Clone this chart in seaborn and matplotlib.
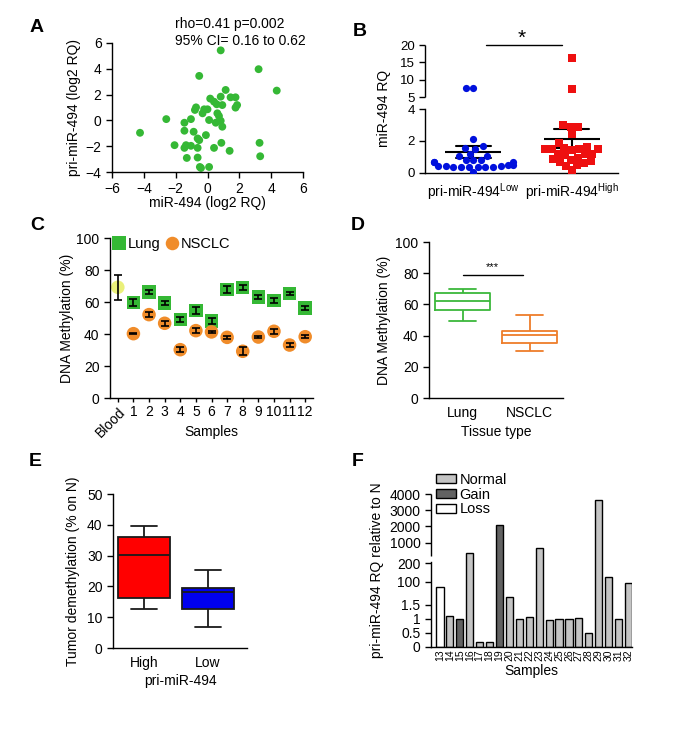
import numpy as np
import pandas as pd
import matplotlib
matplotlib.use("Agg")
import matplotlib.pyplot as plt
import seaborn as sns

# ---------------- data ----------------
# Panel A: scatter (log2 RQ)
a_mir494 = [0.83, 3.21, -0.52, 4.35, 1.14, 0.17, 0.41, 0.83, 1.45, 1.76, 1.86, 1.76,
            0.58, 0.93, -0.72, -0.79, -0.21, 0.0, -0.31, 0.62, 0.72, -2.59, -1.04, 0.1,
            0.83, 0.52, -1.45, 0.93, -1.45, -0.87, -4.24, -0.1, -0.62, -0.52, 0.87, 3.27,
            -2.07, -1.35, -1.04, -1.45, -0.62, 0.41, 1.39, -1.3, -0.62, 3.31, -0.48, 0.1, -0.41]
a_pri494 = [5.43, 3.97, 3.45, 2.31, 2.36, 1.69, 1.45, 1.84, 1.79, 1.79, 1.19, 0.99,
            1.25, 1.19, 1.01, 0.81, 0.86, 0.86, 0.55, 0.55, 0.34, 0.1, 0.1, 0.03,
            -0.03, -0.18, -0.18, -0.49, -0.8, -0.88, -0.96, -1.14, -1.4, -1.53, -1.74, -1.74,
            -1.92, -1.92, -1.97, -2.13, -2.13, -2.13, -2.36, -2.91, -2.88, -2.78, -3.61, -3.61, -3.69]
a_stats = ["rho=0.41 p=0.002", "95% CI= 0.16 to 0.62"]

# Panel B: miR-494 RQ by pri-miR-494 group
b_low = [7.8, 7.8, 2.1, 1.55, 1.5, 1.65, 1.2, 1.05, 1.05, 0.8, 0.8, 0.65, 0.65, 0.65,
         0.8, 0.5, 0.5, 0.4, 0.38, 0.38, 0.38, 0.38, 0.38, 0.38, 0.4, 0.42, 0.02]
b_high = [16.4, 7.3, 3.0, 2.9, 2.9, 2.45, 1.85, 1.6, 1.55, 1.5, 1.5, 1.5, 1.5, 1.45,
          1.2, 1.2, 1.15, 1.1, 0.95, 0.85, 0.8, 0.75, 0.7, 0.6, 0.5, 0.45, 0.15]
b_groups = ["Low", "High"]
b_ticklabels = ["pri-miR-494$^{\\mathrm{Low}}$", "pri-miR-494$^{\\mathrm{High}}$"]
b_yticks = [0, 2, 4, 5, 10, 15, 20]

# Panel C: DNA methylation per sample
c_blood_label = ["Blood"]
c_blood_mean = [69.2]
c_blood_err = [7.8]
c_samples = ["1", "2", "3", "4", "5", "6", "7", "8", "9", "10", "11", "12"]
c_lung_mean = [59.8, 66.3, 59.4, 49.0, 54.8, 48.1, 67.7, 69.0, 63.1, 61.0, 65.4, 56.3]
c_lung_err = [2.0, 1.5, 1.5, 1.5, 2.0, 2.0, 2.0, 1.5, 1.5, 1.5, 1.0, 1.0]
c_nsclc_mean = [40.2, 52.1, 46.7, 30.2, 42.1, 41.3, 37.9, 29.2, 38.1, 41.7, 33.1, 38.3]
c_nsclc_err = [0.3, 1.5, 1.5, 1.5, 1.5, 0.5, 1.0, 2.5, 0.5, 1.5, 1.0, 1.0]

# Panel D: box (min, Q1, median, Q3, max)
d_tissues = ["Lung", "NSCLC"]
d_lung_box = [49.1, 56.4, 62.0, 67.5, 69.7]
d_nsclc_box = [30.1, 35.0, 40.2, 42.9, 53.2]

# Panel E: box (min, Q1, median, Q3, max)
e_groups = ["High", "Low"]
e_high_box = [12.7, 16.1, 30.1, 36.1, 39.7]
e_low_box = [6.8, 12.6, 18.1, 19.6, 25.4]

# Panel F: pri-miR-494 RQ relative to N
f_samples = [str(s) for s in range(13, 33)]
f_values = [76, 1.09, 1.0, 590, 0.16, 0.16, 2100, 36.6, 1.0, 1.06, 806, 0.95,
            1.01, 1.01, 1.05, 0.49, 3660, 127, 1.0, 93]
f_status = ["Loss", "Normal", "Gain", "Normal", "Normal", "Normal", "Gain", "Normal",
            "Normal", "Normal", "Normal", "Normal", "Normal", "Normal", "Normal",
            "Normal", "Normal", "Normal", "Normal", "Normal"]
f_status_order = ["Normal", "Gain", "Loss"]
f_yticks = [0, 0.5, 1, 1.5, 100, 200, 1000, 2000, 3000, 4000]
f_yticklabels = ["0", "0.5", "1", "1.5", "100", "200", "1000", "2000", "3000", "4000"]

# ---------------- style ----------------
sns.set_style("ticks")
plt.rcParams.update({
    "font.family": ["Liberation Sans", "DejaVu Sans"],
    "mathtext.fontset": "custom",
    "mathtext.rm": "Liberation Sans",
    "mathtext.it": "Liberation Sans:italic",
    "font.size": 10,
    "axes.labelsize": 10,
    "xtick.labelsize": 10,
    "ytick.labelsize": 10,
    "axes.linewidth": 1.0,
    "xtick.major.width": 1.0,
    "ytick.major.width": 1.0,
    "xtick.major.size": 4,
    "ytick.major.size": 4,
    "xtick.color": "black",
    "ytick.color": "black",
    "axes.edgecolor": "black",
    "text.color": "black",
    "axes.labelcolor": "black",
})

GREEN = "#35b835"
ORANGE = "#f08c2a"

W, H = 700, 745
fig = plt.figure(figsize=(W / 100, H / 100), dpi=100)


def rect(x0, y0, x1, y1):
    return [x0 / W, 1 - y1 / H, (x1 - x0) / W, (y1 - y0) / H]


def piecewise(kv, kp):
    kv = np.asarray(kv, float)
    kp = np.asarray(kp, float)
    s0 = (kp[1] - kp[0]) / (kv[1] - kv[0])
    s1 = (kp[-1] - kp[-2]) / (kv[-1] - kv[-2])

    def fwd(v):
        v = np.asarray(v, float)
        out = np.interp(v, kv, kp)
        out = np.where(v < kv[0], kp[0] + (v - kv[0]) * s0, out)
        out = np.where(v > kv[-1], kp[-1] + (v - kv[-1]) * s1, out)
        return out

    def inv(p):
        p = np.asarray(p, float)
        out = np.interp(p, kp, kv)
        out = np.where(p < kp[0], kv[0] + (p - kp[0]) / s0, out)
        out = np.where(p > kp[-1], kv[-1] + (p - kp[-1]) / s1, out)
        return out

    return fwd, inv


def panel_letter(x, y, s):
    fig.text(x / W, 1 - y / H, s, fontsize=14, fontweight="bold", ha="center", va="center")


# ---------------- Panel A ----------------
axA = fig.add_axes(rect(112, 43, 303, 172))
sns.scatterplot(x=a_mir494, y=a_pri494, color=GREEN, s=32, edgecolor="none", ax=axA)
axA.set_xlim(-6, 6)
axA.set_ylim(-4, 6)
axA.set_xticks([-6, -4, -2, 0, 2, 4, 6])
axA.set_yticks([-4, -2, 0, 2, 4, 6])
axA.set_xlabel("miR-494 (log2 RQ)", labelpad=0)
axA.set_ylabel("pri-miR-494 (log2 RQ)", labelpad=3)
sns.despine(ax=axA)
fig.text(175 / W, 1 - 24 / H, a_stats[0], ha="left", va="center", fontsize=10)
fig.text(175 / W, 1 - 41 / H, a_stats[1], ha="left", va="center", fontsize=10)
panel_letter(37, 28, "A")

# ---------------- Panel B ----------------
axB = fig.add_axes(rect(425, 45, 618, 172.7))
sns.swarmplot(x=["Low"] * len(b_low), y=b_low, order=b_groups, color="#0010dd",
              marker="o", size=5.2, linewidth=0, warn_thresh=1, ax=axB)
sns.swarmplot(x=["High"] * len(b_high), y=b_high, order=b_groups, color="#ee1010",
              marker="s", size=5.2, linewidth=0, warn_thresh=1, ax=axB)
b_df = pd.DataFrame({"group": ["Low"] * len(b_low) + ["High"] * len(b_high),
                     "rq": b_low + b_high})
sns.pointplot(data=b_df, x="group", y="rq", order=b_groups, errorbar="se", capsize=0.36,
              color="black", markers="_", markersize=40, markeredgewidth=1.5,
              linestyle="none", err_kws={"linewidth": 1.5}, ax=axB)
fB, iB = piecewise([0, 4, 5, 20], [0, 63.7, 75.4, 127.7])
axB.set_yscale("function", functions=(fB, iB))
axB.set_ylim(0, 20)
axB.set_yticks(b_yticks)
axB.set_yticklabels([str(t) for t in b_yticks])
axB.tick_params(axis="y", labelsize=9.5)
axB.set_xlim(-0.49, 1.47)
axB.set_xticks([0, 1])
axB.set_xticklabels(b_ticklabels)
axB.tick_params(axis="x", length=0, pad=6)
axB.set_xlabel("")
axB.set_ylabel("miR-494 RQ", labelpad=6)
sns.despine(ax=axB)
axB.spines["left"].set_bounds(0, 4)
axB.plot([0, 0], [5, 20], transform=axB.get_yaxis_transform(), color="black",
         lw=1.0, clip_on=False, solid_capstyle="butt")
axB.plot([0.316, 0.71], [1.0, 1.0], transform=axB.transAxes, color="black", lw=1.0, clip_on=False)
fig.text(522 / W, 1 - 38 / H, "*", ha="center", va="center", fontsize=15)
panel_letter(360, 32, "B")

# ---------------- Panel C ----------------
axC = fig.add_axes(rect(110, 238, 313, 398))
c_df = pd.DataFrame({
    "sample": c_blood_label + c_samples + c_samples,
    "meth": c_blood_mean + c_lung_mean + c_nsclc_mean,
    "err": c_blood_err + c_lung_err + c_nsclc_err,
    "tissue": ["Blood"] + ["Lung"] * len(c_samples) + ["NSCLC"] * len(c_samples),
})
sns.scatterplot(data=c_df, x="sample", y="meth", hue="tissue", style="tissue",
                markers={"Blood": "o", "Lung": "s", "NSCLC": "o"},
                palette={"Blood": "#eaf07a", "Lung": GREEN, "NSCLC": ORANGE},
                s=95, linewidth=0, ax=axC)
axC.errorbar(c_df["sample"], c_df["meth"], yerr=c_df["err"], fmt="none", ecolor="black",
             elinewidth=1.2, capsize=3.2, capthick=1.2, zorder=4)
handles, labels = axC.get_legend_handles_labels()
keep = [(h, l) for h, l in zip(handles, labels) if l in ("Lung", "NSCLC")]
axC.legend([k[0] for k in keep], [k[1] for k in keep], ncol=2, loc="center left",
           bbox_to_anchor=(112 / W, 1 - 244 / H), bbox_transform=fig.transFigure,
           frameon=False, handletextpad=0.1, columnspacing=0.3, handlelength=1.0,
           borderpad=0, borderaxespad=0, fontsize=10.5)
axC.set_xlim(-0.5, 12.5)
axC.set_ylim(0, 100)
axC.set_yticks([0, 20, 40, 60, 80, 100])
axC.set_xlabel("Samples")
axC.xaxis.set_label_coords(0.5, -0.17)
axC.set_ylabel("DNA Methylation (%)", labelpad=2)
axC.tick_params(axis="x", length=3, pad=2)
for lab in axC.get_xticklabels():
    if lab.get_text() == "Blood":
        lab.set_rotation(45)
        lab.set_ha("right")
        lab.set_rotation_mode("anchor")
sns.despine(ax=axC)
panel_letter(37, 225, "C")

# ---------------- Panel D ----------------
axD = fig.add_axes(rect(429, 242, 563, 398))
d_df = pd.DataFrame({"tissue": ["Lung"] * len(d_lung_box) + ["NSCLC"] * len(d_nsclc_box),
                     "meth": d_lung_box + d_nsclc_box})
sns.boxplot(data=d_df, x="tissue", y="meth", hue="tissue", order=d_tissues,
            palette={"Lung": "#3cb83c", "NSCLC": "#ee7d2a"}, fill=False, whis=(0, 100),
            width=0.83, linewidth=1.3, saturation=1, legend=False, ax=axD)
axD.set_xlim(-0.5, 1.5)
axD.set_ylim(0, 100)
axD.set_yticks([0, 20, 40, 60, 80, 100])
axD.tick_params(axis="x", length=0, pad=6)
axD.set_xlabel("Tissue type", labelpad=3)
axD.set_ylabel("DNA Methylation (%)", labelpad=3)
sns.despine(ax=axD)
axD.plot([0, 0.9], [79, 79], color="black", lw=1.0)
axD.text(0.45, 80.5, "***", ha="center", va="bottom", fontsize=8)
panel_letter(358, 225, "D")

# ---------------- Panel E ----------------
axE = fig.add_axes(rect(113, 494, 247, 648))
e_df = pd.DataFrame({"group": ["High"] * len(e_high_box) + ["Low"] * len(e_low_box),
                     "demeth": e_high_box + e_low_box})
sns.boxplot(data=e_df, x="group", y="demeth", hue="group", order=e_groups,
            palette={"High": "#ff0000", "Low": "#0000ee"}, whis=(0, 100), width=0.81,
            linecolor="#1a1a1a", linewidth=1.3, saturation=1, legend=False, ax=axE)
axE.set_xlim(-0.48, 1.61)
axE.set_ylim(0, 50)
axE.set_yticks([0, 10, 20, 30, 40, 50])
axE.tick_params(axis="x", length=0, pad=6)
axE.set_xlabel("pri-miR-494", labelpad=3)
axE.set_ylabel("Tumor demethylation (% on N)", labelpad=5)
sns.despine(ax=axE)
panel_letter(35, 462, "E")

# ---------------- Panel F ----------------
axF = fig.add_axes(rect(431, 494, 632, 646.7))
f_df = pd.DataFrame({"sample": f_samples, "rq": f_values, "status": f_status})
sns.barplot(data=f_df, x="sample", y="rq", hue="status", hue_order=f_status_order,
            order=f_samples, palette={"Normal": "#c4c4c4", "Gain": "#626262", "Loss": "white"},
            dodge=False, width=0.72, edgecolor="black", linewidth=1.0, saturation=1,
            errorbar=None, ax=axF)
fF, iF = piecewise([0, 1.5, 100, 200, 1000, 4000], [0, 41.7, 65.0, 83.4, 104.0, 152.7])
axF.set_yscale("function", functions=(fF, iF))
axF.set_ylim(0, 4000)
axF.set_yticks(f_yticks)
axF.set_yticklabels(f_yticklabels)
axF.set_xlim(-0.9, 19.35)
axF.tick_params(axis="x", length=0, pad=2, labelsize=7.5, rotation=90)
axF.set_xlabel("Samples", labelpad=2)
axF.set_ylabel("pri-miR-494 RQ relative to N", labelpad=4)
sns.despine(ax=axF)
axF.spines["left"].set_bounds(0, 260)
axF.plot([0, 0], [480, 4000], transform=axF.get_yaxis_transform(), color="black",
         lw=1.0, clip_on=False, solid_capstyle="butt")
hF, lF = axF.get_legend_handles_labels()
axF.legend(hF, lF, loc="upper left", bbox_to_anchor=(436 / W, 1 - 473 / H),
           bbox_transform=fig.transFigure, frameon=False, fontsize=10.5,
           handlelength=1.4, handleheight=0.6, handletextpad=0.2, labelspacing=0.05,
           borderpad=0, borderaxespad=0)
panel_letter(358, 462, "F")

fig.savefig("out.png", dpi=100)
